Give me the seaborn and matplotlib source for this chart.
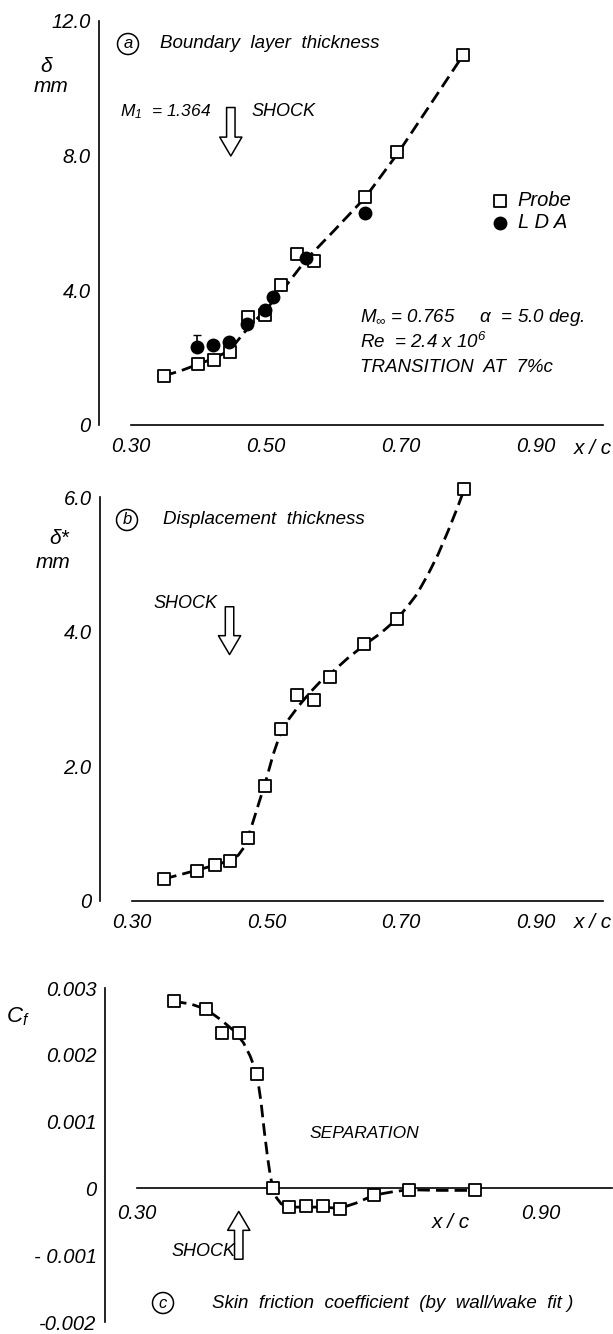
import numpy as np
import pandas as pd
import matplotlib
matplotlib.use("Agg")
import matplotlib.pyplot as plt
import seaborn as sns

# ---------------- data ----------------
# (a) boundary layer thickness, mm
probe_a_x = [0.349, 0.399, 0.423, 0.447, 0.473, 0.498, 0.522, 0.546, 0.572, 0.647, 0.695, 0.793]
probe_a_y = [1.46, 1.81, 1.94, 2.16, 3.20, 3.27, 4.16, 5.07, 4.87, 6.78, 8.11, 11.0]
lda_a_x = [0.398, 0.422, 0.446, 0.472, 0.498, 0.510, 0.559, 0.647]
lda_a_y = [2.33, 2.37, 2.48, 3.00, 3.42, 3.80, 4.95, 6.30]
lda_a_err = [0.35, 0, 0, 0, 0, 0, 0, 0]
fit_a_x = [0.349, 0.375, 0.399, 0.423, 0.440, 0.452, 0.465, 0.480, 0.498, 0.515, 0.535, 0.560, 0.600, 0.647, 0.695, 0.745, 0.793]
fit_a_y = [1.46, 1.62, 1.80, 1.98, 2.15, 2.35, 2.68, 3.02, 3.38, 3.78, 4.27, 4.92, 5.75, 6.75, 8.05, 9.55, 11.0]

# (b) displacement thickness, mm
probe_b_x = [0.348, 0.397, 0.423, 0.445, 0.472, 0.498, 0.521, 0.546, 0.570, 0.595, 0.645, 0.694, 0.794]
probe_b_y = [0.33, 0.45, 0.53, 0.59, 0.93, 1.71, 2.55, 3.06, 2.98, 3.32, 3.82, 4.19, 6.12]
fit_b_x = [0.348, 0.375, 0.397, 0.423, 0.445, 0.458, 0.466, 0.472, 0.480, 0.490, 0.498, 0.510, 0.521, 0.533, 0.548, 0.565, 0.582, 0.600, 0.620, 0.645, 0.670, 0.694, 0.710, 0.723, 0.740, 0.755, 0.770, 0.784, 0.794]
fit_b_y = [0.33, 0.40, 0.46, 0.53, 0.60, 0.68, 0.79, 0.93, 1.18, 1.50, 1.75, 2.18, 2.50, 2.70, 2.90, 3.10, 3.28, 3.42, 3.60, 3.80, 3.98, 4.19, 4.38, 4.55, 4.85, 5.15, 5.50, 5.85, 6.12]

# (c) skin friction coefficient
probe_c_x = [0.355, 0.403, 0.426, 0.452, 0.478, 0.502, 0.525, 0.551, 0.576, 0.601, 0.652, 0.703, 0.801]
probe_c_y = [0.00280, 0.00268, 0.00232, 0.00232, 0.00171, 0.0, -0.00028, -0.00026, -0.00027, -0.00031, -0.00010, -0.00002, -0.00003]
fit_c_x = [0.355, 0.380, 0.403, 0.425, 0.445, 0.458, 0.468, 0.478, 0.484, 0.489, 0.494, 0.498, 0.502, 0.507, 0.514, 0.525, 0.551, 0.576, 0.601, 0.625, 0.652, 0.680, 0.703, 0.750, 0.801]
fit_c_y = [0.00280, 0.00276, 0.00268, 0.00252, 0.00235, 0.00218, 0.00198, 0.00171, 0.00130, 0.00085, 0.00045, 0.00018, 0.0, -0.00014, -0.00023, -0.00028, -0.00028, -0.00028, -0.00030, -0.00022, -0.00010, -0.00005, -0.00002, -0.00003, -0.00003]

# axis ticks and labels
xticks_ab = [0.30, 0.40, 0.50, 0.60, 0.70, 0.80, 0.90, 1.00]
xticklabels_ab = ["0.30", "", "0.50", "", "0.70", "", "0.90", ""]
yticks_a = [0, 2, 4, 6, 8, 10, 12]
yticklabels_a = ["0", "", "4.0", "", "8.0", "", "12.0"]
yticks_b = [0, 1, 2, 3, 4, 5, 6]
yticklabels_b = ["0", "", "2.0", "", "4.0", "", "6.0"]
xticks_c = [0.30, 0.40, 0.50, 0.60, 0.70, 0.80, 0.90]
xticklabels_c = ["0.30", "", "", "", "", "", "0.90"]
yticks_c = [-0.002, -0.001, 0.0, 0.001, 0.002, 0.003]
yticklabels_c = ["-0.002", "- 0.001", "0", "0.001", "0.002", "0.003"]

# shock arrow positions (x/c, tail, tip)
shock_a = (0.448, 9.43, 7.99)
shock_b = (0.445, 4.37, 3.66)
shock_c = (0.451, -0.00106, -0.000345)

# ---------------- style ----------------
sns.set_style("white")
NUM_FONT = ["Liberation Sans Narrow", "Liberation Sans", "DejaVu Sans"]
TXT_FONT = ["Liberation Sans", "DejaVu Sans"]
plt.rcParams["font.family"] = TXT_FONT
plt.rcParams["font.style"] = "italic"
plt.rcParams["text.color"] = "black"
plt.rcParams["axes.labelcolor"] = "black"
plt.rcParams["xtick.color"] = "black"
plt.rcParams["ytick.color"] = "black"
plt.rcParams["mathtext.fontset"] = "custom"
plt.rcParams["mathtext.rm"] = "Liberation Sans:italic"
plt.rcParams["mathtext.it"] = "Liberation Sans:italic"
plt.rcParams["mathtext.sf"] = "Liberation Sans:italic"

W, H = 613, 1334
fig = plt.figure(figsize=(W / 100, H / 100), dpi=100)
fig.patch.set_facecolor("white")


def rect(left, top, right, bottom):
    return [left / W, 1 - bottom / H, (right - left) / W, (bottom - top) / H]


def ftext(x, y, s, size=13, ha="left", va="center", family=None, **kw):
    fig.text(x / W, 1 - y / H, s, fontsize=size, ha=ha, va=va, color="black",
             family=family or TXT_FONT, style="italic", **kw)


LW_AX = 1.2
NUM_SIZE = 14.5
DASH = (0, (4.5, 2.2))


def style_axes(ax, xlim, ylim, xticks, xtl, yticks, ytl, ybounds, xbounds, xpad=9):
    ax.set_xlim(*xlim)
    ax.set_ylim(*ylim)
    for s in ("top", "right"):
        ax.spines[s].set_visible(False)
    for s in ("left", "bottom"):
        ax.spines[s].set_linewidth(LW_AX)
        ax.spines[s].set_color("black")
    ax.spines["left"].set_bounds(*ybounds)
    ax.spines["bottom"].set_bounds(*xbounds)
    ax.set_xticks(xticks)
    ax.set_xticklabels(xtl)
    ax.set_yticks(yticks)
    ax.set_yticklabels(ytl)
    ax.tick_params(axis="both", direction="in", length=5, width=LW_AX, colors="black")
    ax.tick_params(axis="y", pad=6, labelsize=NUM_SIZE)
    ax.tick_params(axis="x", pad=xpad, labelsize=NUM_SIZE)
    for lab in ax.get_xticklabels() + ax.get_yticklabels():
        lab.set_family(NUM_FONT)
        lab.set_style("italic")
    ax.set_xlabel("")
    ax.set_ylabel("")
    ax.patch.set_alpha(0)


def curve(ax, x, y):
    sns.lineplot(x=x, y=y, ax=ax, color="black", linewidth=2.0, linestyle=DASH,
                 sort=False, estimator=None, zorder=2, clip_on=False)


def squares(ax, x, y, label=None):
    sns.scatterplot(x=x, y=y, ax=ax, marker="s", s=66, color="white",
                    edgecolor="black", linewidth=1.3, zorder=4, clip_on=False, label=label)


def shock_arrow(ax, pos):
    x, tail, tip = pos
    ax.annotate("", xy=(x, tip), xytext=(x, tail),
                arrowprops=dict(arrowstyle="simple,head_length=0.85,head_width=1.0,tail_width=0.38",
                                mutation_scale=16, fc="white", ec="black", lw=1.1,
                                shrinkA=0, shrinkB=0))


# ---------------- (a) ----------------
ax_a = fig.add_axes(rect(99, 21, 603, 425))
curve(ax_a, fit_a_x, fit_a_y)
ax_a.errorbar(lda_a_x, lda_a_y, yerr=[np.zeros(len(lda_a_err)), lda_a_err], fmt="none",
              ecolor="black", elinewidth=1.2, capsize=3, zorder=3)
squares(ax_a, probe_a_x, probe_a_y, label="Probe")
sns.scatterplot(x=lda_a_x, y=lda_a_y, ax=ax_a, marker="o", s=100, color="black",
                edgecolor="black", linewidth=0, zorder=5, clip_on=False, label="L D A")
style_axes(ax_a, (0.2525, 1.0), (0, 12), xticks_ab, xticklabels_ab, yticks_a,
           yticklabels_a, (0, 12), (0.30, 1.0))
leg = ax_a.legend(loc="center left", bbox_to_anchor=(0.775, 0.528), frameon=False,
                  handlelength=1.0, handletextpad=0.4, labelspacing=0.12,
                  borderpad=0, borderaxespad=0,
                  prop={"family": TXT_FONT, "style": "italic", "size": 14.5})
shock_arrow(ax_a, shock_a)

ftext(128, 44, "a", size=12, ha="center",
      bbox=dict(boxstyle="circle,pad=0.18", fc="white", ec="black", lw=1.1))
ftext(160, 44, "Boundary  layer  thickness", size=13.5)
ftext(46, 66, "δ", size=15, ha="center")
ftext(51, 87, "mm", size=15, ha="center")
ftext(120, 112, r"$M_1$  = 1.364", size=12.5)
ftext(251, 112, "SHOCK", size=13)
ftext(360, 317, r"$M_\infty$ = 0.765     α  = 5.0 deg.", size=13.5)
ftext(360, 342, r"Re  = 2.4 x 10$^6$", size=13.5)
ftext(360, 368, "TRANSITION  AT  7%c", size=13.5)
ftext(593, 448, "x / c", size=15, ha="center", family=NUM_FONT)

# ---------------- (b) ----------------
ax_b = fig.add_axes(rect(100, 497, 603, 901))
curve(ax_b, fit_b_x, fit_b_y)
squares(ax_b, probe_b_x, probe_b_y)
style_axes(ax_b, (0.2525, 1.0), (0, 6), xticks_ab, xticklabels_ab, yticks_b,
           yticklabels_b, (0, 6), (0.30, 1.0))
shock_arrow(ax_b, shock_b)

ftext(127, 520, "b", size=12, ha="center",
      bbox=dict(boxstyle="circle,pad=0.18", fc="white", ec="black", lw=1.1))
ftext(163, 520, "Displacement  thickness", size=13.5)
ftext(59, 538, "δ*", size=15, ha="center")
ftext(53, 562, "mm", size=15, ha="center")
ftext(153, 603, "SHOCK", size=13)
ftext(593, 923, "x / c", size=15, ha="center", family=NUM_FONT)

# ---------------- (c) ----------------
ax_c = fig.add_axes(rect(105, 988, 612, 1322))
curve(ax_c, fit_c_x, fit_c_y)
squares(ax_c, probe_c_x, probe_c_y)
style_axes(ax_c, (0.2525, 1.005), (-0.002, 0.003), xticks_c, xticklabels_c, yticks_c,
           yticklabels_c, (-0.002, 0.003), (0.30, 1.005), xpad=11)
ax_c.spines["bottom"].set_position(("data", 0))
shock_arrow(ax_c, shock_c)

ftext(18, 1017, r"$C_f$", size=16, ha="center")
ftext(310, 1133, "SEPARATION", size=12.5)
ftext(171, 1252, "SHOCK", size=13)
ftext(451, 1222, "x / c", size=15, ha="center", family=NUM_FONT)
ftext(163, 1303, "c", size=12, ha="center",
      bbox=dict(boxstyle="circle,pad=0.18", fc="white", ec="black", lw=1.1))
ftext(212, 1303, "Skin  friction  coefficient  (by  wall/wake  fit )", size=13.5)

fig.savefig("out.png", dpi=100, facecolor="white")
